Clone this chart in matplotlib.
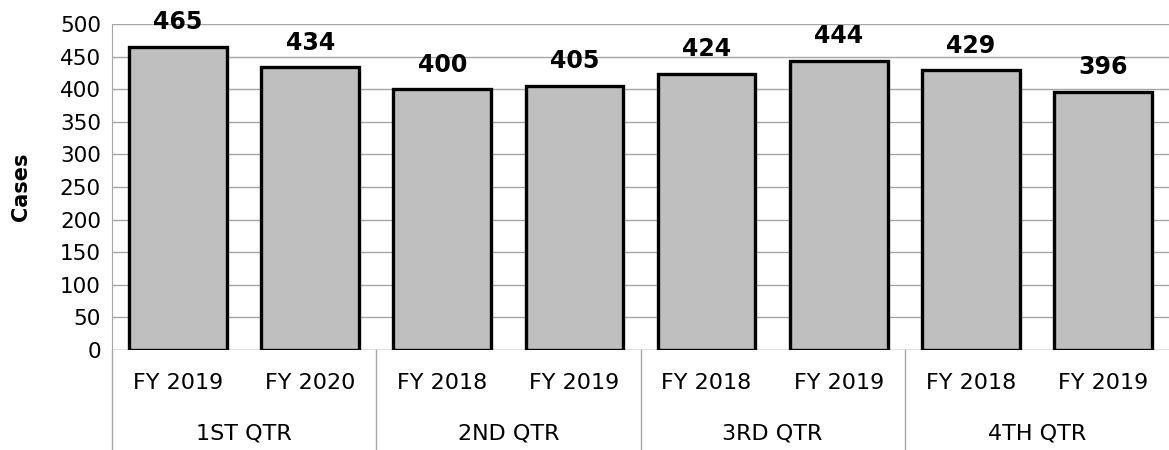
import matplotlib
matplotlib.use("Agg")
import matplotlib.pyplot as plt
import matplotlib.transforms as mtransforms

# data
quarters = ["1ST QTR", "2ND QTR", "3RD QTR", "4TH QTR"]
years = ["FY 2019", "FY 2020", "FY 2018", "FY 2019",
         "FY 2018", "FY 2019", "FY 2018", "FY 2019"]
cases = [465, 434, 400, 405, 424, 444, 429, 396]

GRID = "#a6a6a6"

plt.rcParams["font.family"] = ["DejaVu Sans"]

fig = plt.figure(figsize=(11.69, 4.5), dpi=100)
ax = fig.add_axes([112 / 1169, 1 - 350 / 450, 1 - 112 / 1169, 326 / 450])

x = list(range(len(cases)))
bars = ax.bar(x, cases, width=0.74, color="#bfbfbf", edgecolor="black",
              linewidth=2.4, zorder=3)
for b, v in zip(bars, cases):
    ax.annotate(str(v), (b.get_x() + b.get_width() / 2, v), xytext=(0, 9),
                textcoords="offset points", ha="center", va="bottom",
                fontsize=17, fontweight="bold", zorder=4)

ax.set_xlim(-0.5, len(cases) - 0.5)
ax.set_ylim(0, 500)
ax.set_yticks(range(0, 501, 50))
ax.tick_params(axis="y", length=0, labelsize=15.5, pad=8)
ax.tick_params(axis="x", length=0)
ax.set_xticks([])
ax.yaxis.grid(True, color=GRID, linewidth=1, zorder=0)
for s in ["top", "right", "bottom"]:
    ax.spines[s].set_visible(False)
ax.spines["left"].set_color(GRID)
ax.axhline(0, color=GRID, linewidth=1, zorder=1)
ax.set_ylabel("Cases", fontsize=15, fontweight="bold")
ax.yaxis.set_label_coords(-81 / 1057, 0.5)

# two-level category axis
trans = mtransforms.blended_transform_factory(ax.transData, ax.transAxes)
for i, yl in enumerate(years):
    ax.text(i, -33 / 326, yl, transform=trans, ha="center", va="center",
            fontsize=16)
for g, q in enumerate(quarters):
    ax.text(2 * g + 0.5, -84 / 326, q, transform=trans, ha="center",
            va="center", fontsize=16)
    ax.plot([2 * g - 0.5, 2 * g - 0.5], [0, -100 / 326], transform=trans,
            color=GRID, linewidth=1, clip_on=False)

fig.savefig("out.png", dpi=100)
